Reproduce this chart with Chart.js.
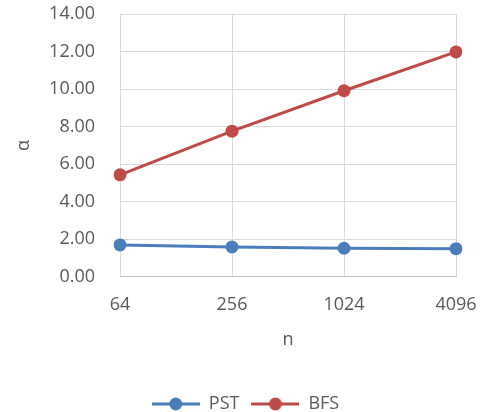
<!DOCTYPE html>
<html lang="en">
<head>
  <meta charset="UTF-8">
  <title>alpha vs n</title>
  <style>
    html, body { margin: 0; padding: 0; background: #fff; }
    #wrap { width: 484px; height: 412px; }
  </style>
</head>
<body>
  <div id="wrap">
    <canvas id="myChart" width="484" height="412"></canvas>
  </div>

  <script src="https://cdn.jsdelivr.net/npm/chart.js"></script>

  <script>
    // data
    const nLabels = ['64', '256', '1024', '4096'];
    const pstValues = [1.70, 1.59, 1.52, 1.50];
    const bfsValues = [5.43, 7.76, 9.91, 11.98];

    const blue = '#4a7ebb';
    const red = '#be4b48';
    const textColor = '#595959';
    const fontFamily = '"Open Sans", sans-serif';
    const fontSize = 18;

    // small line+dot swatch for the legend, like Excel does it
    function swatch(color) {
      const c = document.createElement('canvas');
      c.width = 48;
      c.height = 16;
      const g = c.getContext('2d');
      g.strokeStyle = color;
      g.lineWidth = 3;
      g.beginPath();
      g.moveTo(0, 8);
      g.lineTo(48, 8);
      g.stroke();
      g.fillStyle = color;
      g.beginPath();
      g.arc(24, 8, 6.5, 0, Math.PI * 2);
      g.fill();
      return c;
    }

    const ctx = document.getElementById('myChart').getContext('2d');
    new Chart(ctx, {
      type: 'line',
      data: {
        labels: nLabels,
        datasets: [
          {
            label: 'PST',
            data: pstValues,
            borderColor: blue,
            backgroundColor: blue,
            borderWidth: 3,
            pointRadius: 6.5,
            pointBorderWidth: 0,
            tension: 0
          },
          {
            label: 'BFS',
            data: bfsValues,
            borderColor: red,
            backgroundColor: red,
            borderWidth: 3,
            pointRadius: 6.5,
            pointBorderWidth: 0,
            tension: 0
          }
        ]
      },
      options: {
        responsive: false,
        animation: false,
        // wide left padding keeps the legend centred like the original
        layout: { padding: { left: 35, right: 28, top: 14, bottom: -11 } },
        plugins: {
          legend: {
            position: 'bottom',
            labels: {
              color: textColor,
              font: { family: fontFamily, size: fontSize },
              usePointStyle: true,
              pointStyleWidth: 48,
              padding: 12,
              generateLabels: (chart) => chart.data.datasets.map((ds, i) => ({
                text: ds.label,
                fontColor: textColor,
                pointStyle: swatch(ds.borderColor),
                datasetIndex: i,
                lineWidth: 0,
                strokeStyle: 'transparent',
                fillStyle: 'transparent'
              }))
            }
          },
          tooltip: { enabled: false }
        },
        scales: {
          x: {
            offset: false,
            grid: { color: '#d9d9d9', drawTicks: false },
            border: { color: '#bfbfbf', width: 1 },
            afterFit: (scale) => { scale.paddingLeft = 20; scale.paddingRight = 20; },
            ticks: {
              color: textColor,
              font: { family: fontFamily, size: fontSize },
              padding: 17
            },
            title: {
              display: true,
              text: 'n',
              color: textColor,
              font: { family: fontFamily, size: fontSize },
              padding: { top: -3, bottom: 32 }
            }
          },
          y: {
            min: 0,
            max: 14,
            grid: { color: '#d9d9d9', drawTicks: false },
            border: { display: false },
            afterFit: (scale) => {
              scale.width = 85;
              scale.paddingTop = 10;
              scale.paddingBottom = 10;
            },
            ticks: {
              stepSize: 2,
              color: textColor,
              font: { family: fontFamily, size: fontSize },
              padding: 25,
              callback: (v) => Number(v).toFixed(2)
            },
            title: {
              display: true,
              text: 'α',
              color: textColor,
              font: { family: fontFamily, size: fontSize },
              padding: { top: -22, bottom: 0 }
            }
          }
        }
      }
    });
  </script>
</body>
</html>
